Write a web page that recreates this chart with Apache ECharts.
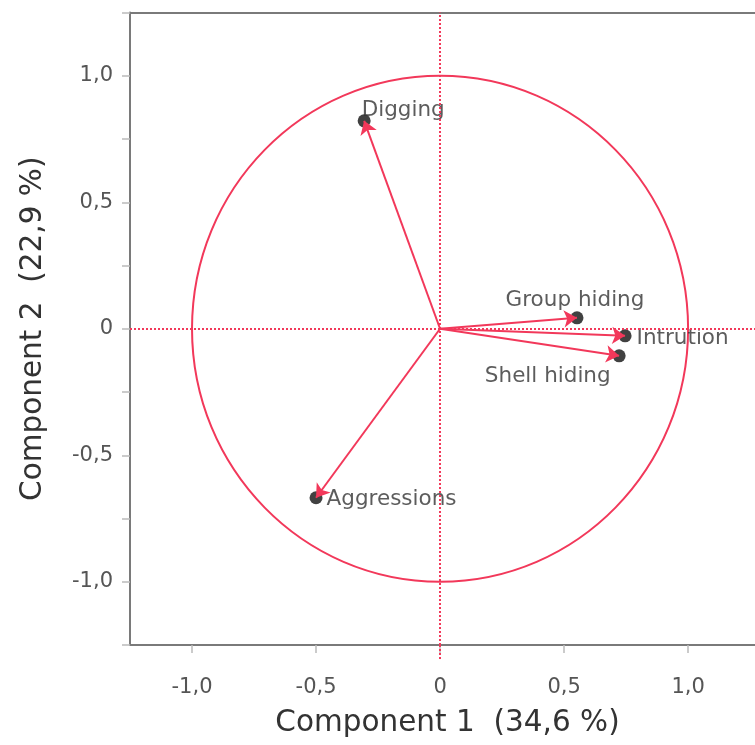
<!DOCTYPE html>
<html><head><meta charset="utf-8">
<script src="https://cdn.jsdelivr.net/npm/echarts@6/dist/echarts.min.js"></script>
<style>html,body{margin:0;padding:0;background:#fff;overflow:hidden}#c{width:775px;height:745px}</style>
</head><body><div id="c"></div>
<script>
const variables = ['Digging', 'Group hiding', 'Intrution', 'Shell hiding', 'Aggressions'];
const comp1 = [-0.306, 0.552, 0.746, 0.722, -0.500];
const comp2 = [0.822, 0.043, -0.028, -0.107, -0.668];
const xTicks = [-1, -0.5, 0, 0.5, 1];
const yTicks = [-1.25, -1, -0.75, -0.5, -0.25, 0, 0.25, 0.5, 0.75, 1, 1.25];
const yLabels = [-1, -0.5, 0, 0.5, 1];
const xTitle = 'Component 1  (34,6 %)';
const yTitle = 'Component 2  (22,9 %)';

const RED = '#f2385a';
const GRAY = '#7a7a7a';
const FONT = '"DejaVu Sans", sans-serif';
const fmt = v => (Math.abs(v) < 1e-9 ? '0' : v.toFixed(1).replace('.', ','));

const labelCfg = {
  'Digging': {position: 'right', distance: 0, offset: [-9, -10]},
  'Group hiding': {position: 'top', distance: 0, offset: [-2, 0]},
  'Intrution': {position: 'right', distance: 5, offset: [0, 3]},
  'Shell hiding': {position: 'left', distance: 2, offset: [0, 21]},
  'Aggressions': {position: 'right', distance: 4, offset: [0, 2]}
};

const chart = echarts.init(document.getElementById('c'));
chart.setOption({
  backgroundColor: '#fff',
  animation: false,
  grid: {left: 130, top: 12.5, bottom: 100, right: 10, show: false, containLabel: false},
  xAxis: [{
    type: 'value', min: -1.25, max: 1.31, position: 'bottom',
    name: xTitle, nameLocation: 'middle', nameGap: 63,
    nameTextStyle: {fontFamily: FONT, fontSize: 29.5, color: '#333'},
    axisLine: {show: true, onZero: false, lineStyle: {color: GRAY, width: 2}},
    axisTick: {show: true, customValues: xTicks, length: 8, lineStyle: {color: '#bbb', width: 1.5}},
    axisLabel: {customValues: xTicks, formatter: fmt, margin: 32, fontFamily: FONT, fontSize: 21, color: '#555'},
    splitLine: {show: false}
  }, {
    type: 'value', min: -1.25, max: 1.31, position: 'top',
    axisLine: {show: true, onZero: false, lineStyle: {color: GRAY, width: 2}},
    axisTick: {show: false}, axisLabel: {show: false}, splitLine: {show: false}
  }, {
    type: 'value', min: -1.25, max: 1.31, position: 'bottom',
    axisLine: {show: true, onZero: false, lineStyle: {color: 'rgba(0,0,0,0)', width: 0}},
    axisTick: {show: true, customValues: [0], length: 14, lineStyle: {color: RED, width: 2, type: 'dotted'}},
    axisLabel: {show: false, customValues: [0]}, splitLine: {show: false}
  }],
  yAxis: {
    type: 'value', min: -1.25, max: 1.25,
    name: yTitle, nameLocation: 'middle', nameGap: 82,
    nameTextStyle: {fontFamily: FONT, fontSize: 29.5, color: '#333'},
    axisLine: {show: true, onZero: false, lineStyle: {color: GRAY, width: 2}},
    axisTick: {show: true, customValues: yTicks, length: 8, lineStyle: {color: '#bbb', width: 1.5}},
    axisLabel: {customValues: yLabels, formatter: fmt, margin: 17, fontFamily: FONT, fontSize: 21, color: '#555'},
    splitLine: {show: false}
  },
  series: [
    {
      type: 'custom', coordinateSystem: 'cartesian2d', silent: true, z: 2,
      data: [[0, 0]],
      renderItem: function (params, api) {
        const c = api.coord([0, 0]);
        const e = api.coord([1, 1]);
        return {type: 'ellipse', shape: {cx: c[0], cy: c[1], rx: e[0] - c[0], ry: c[1] - e[1]},
          style: {fill: 'none', stroke: RED, lineWidth: 2}};
      },
      markLine: {
        silent: true, symbol: 'none', label: {show: false},
        lineStyle: {color: RED, type: 'dotted', width: 2},
        data: [{xAxis: 0}, {yAxis: 0}]
      }
    },
    {
      type: 'scatter', z: 3, symbolSize: 13,
      itemStyle: {color: '#111'},
      data: variables.map((n, i) => ({
        name: n, value: [comp1[i], comp2[i]],
        label: Object.assign({show: true, formatter: n, fontFamily: FONT, fontSize: 21.5, color: '#333'}, labelCfg[n])
      }))
    },
    {
      type: 'lines', coordinateSystem: 'cartesian2d', z: 4, silent: true,
      symbol: ['none', 'arrow'], symbolSize: 13,
      lineStyle: {color: RED, width: 2, opacity: 1},
      data: variables.map((n, i) => ({coords: [[0, 0], [comp1[i], comp2[i]]]}))
    }
  ]
});
</script></body></html>
